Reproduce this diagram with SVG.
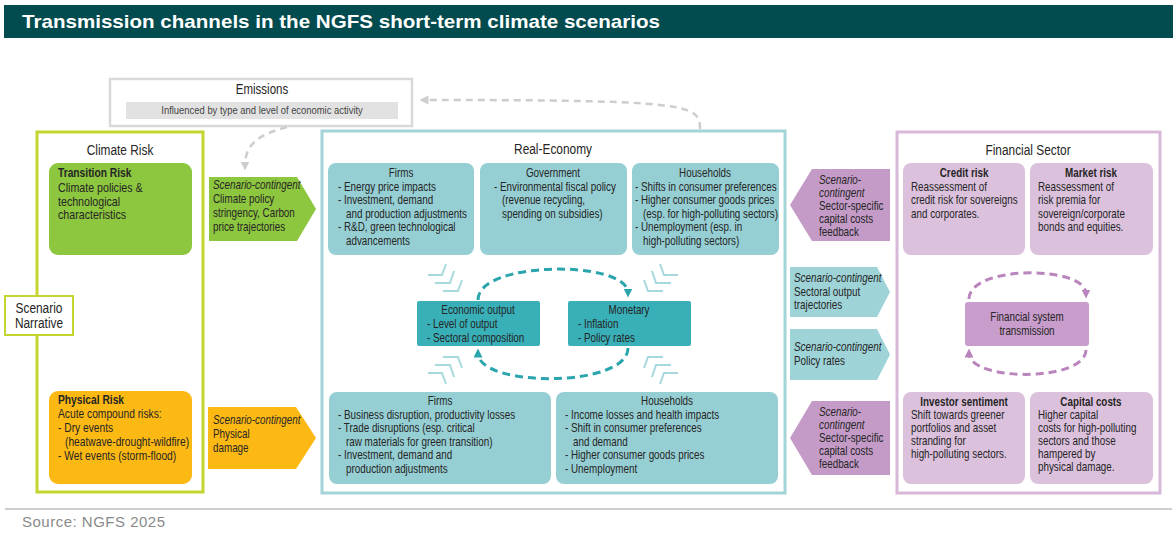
<svg xmlns="http://www.w3.org/2000/svg" width="1176" height="536" viewBox="0 0 1176 536">
<style>
text{font-family:"Liberation Sans",Arial,sans-serif;fill:#252525;transform:scaleX(.82);transform-box:fill-box;transform-origin:0 0}
.t{font-size:12px}
.tc{font-size:12px;text-anchor:middle;transform-origin:50% 0}
.h{font-size:14.5px;text-anchor:middle;transform-origin:50% 0}
.m{text-anchor:middle;transform-origin:50% 0}
.b{font-weight:bold}
.i{font-style:italic}
.g{font-size:13px}
.boxT{fill:#96cfd3}
.boxP{fill:#dcc1dd}
.chev{fill:none;stroke:#a7d9dc;stroke-width:2}
.dt{fill:none;stroke:#2ba5ad;stroke-width:3;stroke-dasharray:8 5}
.dp{fill:none;stroke:#b985bc;stroke-width:3;stroke-dasharray:8 5}
.dg{fill:none;stroke:#cdcdcd;stroke-width:2.5;stroke-dasharray:7 5}
.plain{transform:none}
</style>
<defs>
<marker id="mt" viewBox="0 0 10 10" refX="5" refY="5" markerWidth="9" markerHeight="9" markerUnits="userSpaceOnUse" orient="auto"><path d="M0,0 L10,5 L0,10 z" fill="#2ba5ad"/></marker>
<marker id="mp" viewBox="0 0 10 10" refX="5" refY="5" markerWidth="9" markerHeight="9" markerUnits="userSpaceOnUse" orient="auto"><path d="M0,0 L10,5 L0,10 z" fill="#b985bc"/></marker>
<marker id="mg" viewBox="0 0 10 10" refX="5" refY="5" markerWidth="9" markerHeight="9" markerUnits="userSpaceOnUse" orient="auto"><path d="M0,0 L10,5 L0,10 z" fill="#cdcdcd"/></marker>
<g id="chev" class="chev">
<polyline points="428,275 442,275 446,264"/>
<polyline points="435,283 450,283 454,271"/>
<polyline points="443,291 458,291 462,280"/>
</g>
</defs>

<g id="title">
<rect x="4" y="5" width="1169" height="33" fill="#024b4e"/>
<text x="22" y="28" class="plain" style="font-size:19px;font-weight:bold;fill:#fff" textLength="638" lengthAdjust="spacingAndGlyphs">Transmission channels in the NGFS short-term climate scenarios</text>
</g>

<g id="emissions">
<rect x="110" y="79" width="302" height="47" fill="#fff" stroke="#d9d9d9" stroke-width="2.5"/>
<text x="262" y="94" class="m" style="font-size:14px">Emissions</text>
<rect x="126" y="102" width="272" height="17" fill="#e2e2e2"/>
<text x="262" y="114" class="m" style="font-size:11.5px;fill:#444">Influenced by type and level of economic activity</text>
</g>

<g id="climate-risk">
<rect x="37" y="132" width="166" height="360" fill="#fff" stroke="#c5d530" stroke-width="3"/>
<text x="120" y="155" class="h">Climate Risk</text>
</g>

<g id="transition-risk">
<rect x="49" y="163" width="143" height="92" rx="9" fill="#8dc63f"/>
<text x="58" y="177" style="font-size:12.5px" class="b">Transition Risk</text>
<text x="58" y="192" class="g">Climate policies &amp;</text>
<text x="58" y="206" class="g">technological</text>
<text x="58" y="219" class="g">characteristics</text>
</g>

<g id="physical-risk">
<rect x="49" y="391" width="143" height="93" rx="9" fill="#fdb913"/>
<text x="58" y="404" style="font-size:12.5px" class="b">Physical Risk</text>
<text x="58" y="418" style="font-size:12.5px">Acute compound risks:</text>
<text x="58" y="432" style="font-size:12.5px">- Dry events</text>
<text x="65" y="446" style="font-size:12.5px">(heatwave-drought-wildfire)</text>
<text x="58" y="460" style="font-size:12.5px">- Wet events (storm-flood)</text>
</g>

<g id="scenario-narrative">
<rect x="5" y="296" width="68" height="39" fill="#fff" stroke="#c5d530" stroke-width="2"/>
<text x="39" y="313" class="m" style="font-size:14.5px">Scenario</text>
<text x="39" y="328" class="m" style="font-size:14.5px">Narrative</text>
</g>

<g id="transition-channel">
<polygon points="209,177 297,177 316,209 297,241 209,241" fill="#8dc63f"/>
<text x="213" y="189" class="t i">Scenario-contingent</text>
<text x="213" y="203" class="t">Climate policy</text>
<text x="213" y="217" class="t">stringency, Carbon</text>
<text x="213" y="231" class="t">price trajectories</text>
</g>

<g id="physical-channel">
<polygon points="208,407 296,407 316,438 296,469 208,469" fill="#fdb913"/>
<text x="213" y="424" class="t i">Scenario-contingent</text>
<text x="213" y="438" class="t">Physical</text>
<text x="213" y="452" class="t">damage</text>
</g>

<g id="real-economy">
<rect x="322" y="131" width="463" height="362" fill="#fff" stroke="#a3d4d8" stroke-width="3"/>
<text x="553" y="154" class="h">Real-Economy</text>
</g>

<g id="firms-transition">
<rect x="328" y="163" width="146" height="92" rx="8" class="boxT"/>
<text x="401" y="177" class="tc">Firms</text>
<text x="338" y="191" class="t">- Energy price impacts</text>
<text x="338" y="204.5" class="t">- Investment, demand</text>
<text x="346" y="218" class="t">and production adjustments</text>
<text x="338" y="231.5" class="t">- R&amp;D, green technological</text>
<text x="346" y="245" class="t">advancements</text>
</g>

<g id="government">
<rect x="480" y="163" width="147" height="92" rx="8" class="boxT"/>
<text x="553" y="177" class="tc">Government</text>
<text x="494" y="191" class="t">- Environmental fiscal policy</text>
<text x="502" y="204.5" class="t">(revenue recycling,</text>
<text x="502" y="218" class="t">spending on subsidies)</text>
</g>

<g id="households-transition">
<rect x="632" y="163" width="147" height="92" rx="8" class="boxT"/>
<text x="705" y="177" class="tc">Households</text>
<text x="635" y="191" class="t">- Shifts in consumer preferences</text>
<text x="635" y="204.5" class="t">- Higher consumer goods prices</text>
<text x="643" y="218" class="t">(esp. for high-polluting sectors)</text>
<text x="635" y="231.5" class="t">- Unemployment (esp. in</text>
<text x="643" y="245" class="t">high-polluting sectors)</text>
</g>

<g id="economic-output">
<rect x="417" y="301" width="123" height="45" rx="2" fill="#39afb8"/>
<text x="478" y="314" class="tc">Economic output</text>
<text x="427" y="328" class="t">- Level of output</text>
<text x="427" y="342" class="t">- Sectoral composition</text>
</g>

<g id="monetary">
<rect x="568" y="301" width="123" height="45" rx="2" fill="#39afb8"/>
<text x="629" y="314" class="tc">Monetary</text>
<text x="578" y="328" class="t">- Inflation</text>
<text x="578" y="342" class="t">- Policy rates</text>
</g>

<g id="chevrons">
<use href="#chev"/>
<use href="#chev" transform="translate(1106,0) scale(-1,1)"/>
<use href="#chev" transform="translate(0,648) scale(1,-1)"/>
<use href="#chev" transform="translate(1106,648) scale(-1,-1)"/>
</g>

<g id="firms-physical">
<rect x="329" y="392" width="222" height="92" rx="8" class="boxT"/>
<text x="440" y="405" class="tc">Firms</text>
<text x="338" y="419" class="t">- Business disruption, productivity losses</text>
<text x="338" y="432.5" class="t">- Trade disruptions (esp. critical</text>
<text x="346" y="446" class="t">raw materials for green transition)</text>
<text x="338" y="459.5" class="t">- Investment, demand and</text>
<text x="346" y="473" class="t">production adjustments</text>
</g>

<g id="households-physical">
<rect x="556" y="392" width="222" height="92" rx="8" class="boxT"/>
<text x="667" y="405" class="tc">Households</text>
<text x="565" y="419" class="t">- Income losses and health impacts</text>
<text x="565" y="432.5" class="t">- Shift in consumer preferences</text>
<text x="573" y="446" class="t">and demand</text>
<text x="565" y="459.5" class="t">- Higher consumer goods prices</text>
<text x="565" y="473" class="t">- Unemployment</text>
</g>

<g id="feedback-top">
<polygon points="790,205 812,169 890,169 890,241 812,241" fill="#c49bc7"/>
<text x="819" y="184" class="t i">Scenario-</text>
<text x="819" y="197" class="t i">contingent</text>
<text x="819" y="210" class="t">Sector-specific</text>
<text x="819" y="223" class="t">capital costs</text>
<text x="819" y="236" class="t">feedback</text>
</g>

<g id="sectoral-output">
<polygon points="790,267 877,267 890,292 877,317 790,317" fill="#9ed3d7"/>
<text x="794" y="282" class="t i">Scenario-contingent</text>
<text x="794" y="296" class="t">Sectoral output</text>
<text x="794" y="309" class="t">trajectories</text>
</g>

<g id="policy-rates">
<polygon points="790,329 877,329 890,354.5 877,380 790,380" fill="#9ed3d7"/>
<text x="794" y="351" class="t i">Scenario-contingent</text>
<text x="794" y="365" class="t">Policy rates</text>
</g>

<g id="feedback-bottom">
<polygon points="790,438 812,401 890,401 890,475 812,475" fill="#c49bc7"/>
<text x="819" y="416" class="t i">Scenario-</text>
<text x="819" y="429" class="t i">contingent</text>
<text x="819" y="442" class="t">Sector-specific</text>
<text x="819" y="455" class="t">capital costs</text>
<text x="819" y="468" class="t">feedback</text>
</g>

<g id="financial-sector">
<rect x="897" y="132" width="263" height="361" fill="#fff" stroke="#d7b8d8" stroke-width="3"/>
<text x="1028" y="155" class="h">Financial Sector</text>
</g>

<g id="credit-risk">
<rect x="903" y="163" width="122" height="92" rx="8" class="boxP"/>
<text x="964" y="177" class="tc b">Credit risk</text>
<text x="911" y="191" class="t">Reassessment of</text>
<text x="911" y="204.5" class="t">credit risk for sovereigns</text>
<text x="911" y="218" class="t">and corporates.</text>
</g>

<g id="market-risk">
<rect x="1030" y="163" width="123" height="92" rx="8" class="boxP"/>
<text x="1091" y="177" class="tc b">Market risk</text>
<text x="1038" y="191" class="t">Reassessment of</text>
<text x="1038" y="204.5" class="t">risk premia for</text>
<text x="1038" y="218" class="t">sovereign/corporate</text>
<text x="1038" y="231.5" class="t">bonds and equities.</text>
</g>

<g id="financial-system">
<rect x="965" y="302" width="124" height="44" rx="3" fill="#c89ccb"/>
<text x="1027" y="321" class="tc">Financial system</text>
<text x="1027" y="335" class="tc">transmission</text>
</g>

<g id="investor-sentiment">
<rect x="903" y="392" width="122" height="92" rx="8" class="boxP"/>
<text x="964" y="406" class="tc b">Investor sentiment</text>
<text x="911" y="419.5" class="t">Shift towards greener</text>
<text x="911" y="432.5" class="t">portfolios and asset</text>
<text x="911" y="445.5" class="t">stranding for</text>
<text x="911" y="458.5" class="t">high-polluting sectors.</text>
</g>

<g id="capital-costs">
<rect x="1030" y="392" width="123" height="92" rx="8" class="boxP"/>
<text x="1091" y="406" class="tc b">Capital costs</text>
<text x="1038" y="419.5" class="t">Higher capital</text>
<text x="1038" y="432.5" class="t">costs for high-polluting</text>
<text x="1038" y="445.5" class="t">sectors and those</text>
<text x="1038" y="458.5" class="t">hampered by</text>
<text x="1038" y="471.5" class="t">physical damage.</text>
</g>

<g id="connectors">
<path class="dg" d="M700,129 C700,104 690,100 424,100" marker-end="url(#mg)"/>
<path class="dg" d="M287,127 C256,135 245,146 245,166" marker-end="url(#mg)"/>
<path class="dt" d="M478,300 C478,260 628,260 628,293" marker-end="url(#mt)"/>
<path class="dt" d="M628,348 C628,388 478,388 478,353" marker-end="url(#mt)"/>
<path class="dp" d="M969,299 C969,265 1086,265 1086,294" marker-end="url(#mp)"/>
<path class="dp" d="M1086,350 C1086,382 969,382 969,353" marker-end="url(#mp)"/>
</g>

<g id="footer">
<line x1="5" y1="509" x2="1172" y2="509" stroke="#bdbdbd" stroke-width="1.5"/>
<text x="22" y="527" class="plain" style="font-size:15px;fill:#8a8a8a" textLength="143">Source: NGFS 2025</text>
</g>
</svg>
